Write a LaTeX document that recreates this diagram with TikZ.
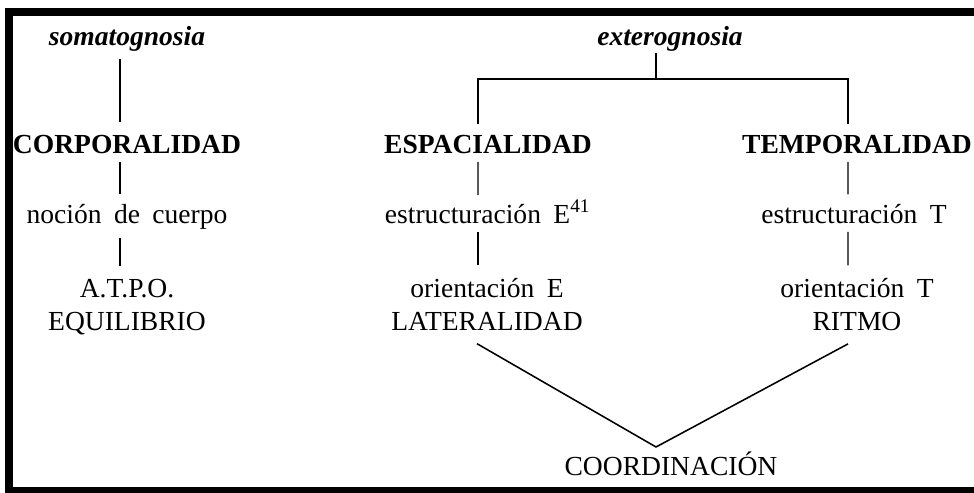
\documentclass[tikz,border=0pt]{standalone}
\usepackage{fontspec}
\setmainfont{Liberation Serif}[WordSpace=1.8]
\usepackage{tikz}
\usetikzlibrary{positioning}

\begin{document}
\begin{tikzpicture}[line width=0.9pt, every node/.style={inner sep=0pt, anchor=base, align=center, font=\fontsize{19.6}{23.4}\selectfont}]
   \useasboundingbox (0,0) rectangle (24.35,-12.325);
   \draw[line width=0.2cm] (24.6,-0.3) -- (0.225,-0.3) -- (0.225,-12.275) -- (24.6,-12.275);
   \node (soma) at (3.175,-1.125) {\textbf{\textit{somatognosia}}};
   \node (corp) at (3.175,-3.825) {\textbf{CORPORALIDAD}};
   \node (nocion) at (3.175,-5.575) {noción de cuerpo};
   \node (atpo) at (3.175,-8.25) {A.T.P.O.\\EQUILIBRIO};
   \node (exter) at (16.75,-1.125) {\textbf{\textit{exterognosia}}};
   \node (esp) at (12.2,-3.825) {\textbf{ESPACIALIDAD}};
   \node (temp) at (21.425,-3.825) {\textbf{TEMPORALIDAD}};
   \node (estE) at (12.19,-5.575) {estructuración E\textsuperscript{41}};
   \node (estT) at (21.35,-5.575) {estructuración T};
   \node (oriE) at (12.175,-8.25) {orientación E\\LATERALIDAD};
   \node (oriT) at (21.425,-8.25) {orientación T\\RITMO};
   \node (coord) at (16.775,-11.875) {COORDINACIÓN};
   \coordinate (ramal) at (16.4,-1.975);
   \coordinate (vertice) at (16.4,-11.175);
   \begin{scope}[shorten <=0.2cm, shorten >=0.3cm]
    \draw ([xshift=-0.175cm]soma.south) -- ([xshift=-0.175cm]corp.north);
    \draw[shorten >=0.22cm] ([xshift=-0.175cm]corp.south) -- ([xshift=-0.175cm]nocion.north);
    \draw ([xshift=-0.175cm]nocion.south) -- ([xshift=-0.175cm]atpo.north);
    \draw[shorten >=0.1cm] ([xshift=-0.25cm]esp.south) -- ([xshift=-0.24cm]estE.north);
    \draw ([xshift=-0.24cm]estE.south) -- ([xshift=-0.225cm]oriE.north);
    \draw[shorten >=0.22cm] ([xshift=-0.225cm]temp.south) -- ([xshift=-0.15cm]estT.north);
    \draw ([xshift=-0.15cm]estT.south) -- ([xshift=-0.225cm]oriT.north);
   \end{scope}
   \draw[shorten <=0.05cm] ([xshift=-0.35cm]exter.south) -- (ramal);
   \draw[shorten <=0.25cm, shorten >=0.25cm] ([xshift=-0.25cm]esp.north) |- (ramal) -| ([xshift=-0.225cm]temp.north);
   \draw[line width=1.1pt] ([shift={(-0.25,-0.325)}]oriE.south) -- (vertice) -- ([shift={(-0.225,-0.325)}]oriT.south);
\end{tikzpicture}
\end{document}
